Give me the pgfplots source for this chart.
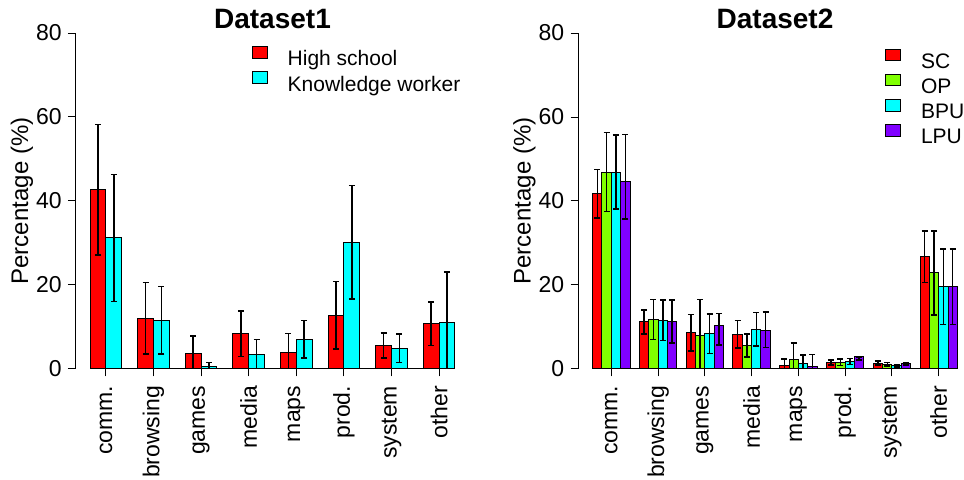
\documentclass[border=0pt]{standalone}
\usepackage{fontspec}
\setmainfont{Liberation Sans}
\usepackage{pgfplots}
\pgfplotsset{compat=1.18}

% R rainbow() colours
\definecolor{rred}{HTML}{FF0000}
\definecolor{rgreen}{HTML}{80FF00}
\definecolor{rcyan}{HTML}{00FFFF}
\definecolor{rpurple}{HTML}{8000FF}

\pgfplotsset{
  rbars/.style={
    scale only axis, width=197pt, height=168pt,
    anchor=south west,
    ymin=0, ymax=80,
    axis x line*=bottom, axis y line*=left,
    axis line style={line width=0.5pt, black},
    tick align=outside, major tick length=3.75pt,
    tick style={black, line width=0.5pt},
    ytick={0,20,40,60,80}, yticklabels={0,20,40,60,80},
    yticklabel style={font=\fontsize{11.5}{13}\selectfont, inner sep=0pt, xshift=-3pt},
    xticklabel style={rotate=90, anchor=east, inner sep=0pt, xshift=-4.5pt,
      font=\fontsize{11.5}{13}\selectfont},
    ylabel={Percentage (\%)},
    ylabel style={at={(axis description cs:-0.1358,0.5)}, anchor=center,
      font=\fontsize{12}{14}\selectfont},
    every axis title shift=0pt,
    title style={at={(axis description cs:0.5,1)}, anchor=base, yshift=2.35pt,
      font=\bfseries\fontsize{14}{16}\selectfont},
    legend style={draw=none, fill=none, inner sep=0pt, anchor=north west,
      font=\fontsize{10.5}{12}\selectfont,
      nodes={inner sep=0pt, text height=8pt, text depth=3pt}, row sep=-0.3pt},
    legend cell align=left,
  },
  rbar/.style={ybar, bar width=1, bar shift=0pt, draw=black, line width=0.5pt, fill=#1,
    error bars/y dir=both, error bars/y explicit,
    error bars/error bar style={line width=0.75pt, black},
    error bars/error mark options={rotate=90, line width=0.75pt, mark size=1.5pt, black},
    legend image code/.code={\draw[##1, line width=0.5pt] (0pt,1.35pt) rectangle (7.5pt,7.15pt);
      \path (17.3pt,0pt);}},
}

\begin{document}
\begin{tikzpicture}
\path[use as bounding box] (0,0) rectangle (482pt,240pt);

\begin{axis}[rbars, at={(37.75pt,55.5pt)},
  xmin=0.08, xmax=24.92,
  x axis line style={shorten <=15.25pt, shorten >=15.25pt},
  xtick={2,5,8,11,14,17,20,23},
  xticklabels={comm.,browsing,games,media,maps,prod.,system,other},
  title={Dataset1},
  legend style={at={(0.4472,0.962)}}]
\addplot[rbar=rred] coordinates {
  (1.5,42.7) +- (0,15.5)
  (4.5,12.1) +- (0,8.5)
  (7.5,3.8) +- (0,4.0)
  (10.5,8.4) +- (0,5.4)
  (13.5,3.9) +- (0,4.5)
  (16.5,12.8) +- (0,8.0)
  (19.5,5.6) +- (0,3.0)
  (22.5,10.8) +- (0,5.2)
};
\addplot[rbar=rcyan] coordinates {
  (2.5,31.2) +- (0,15.1)
  (5.5,11.6) +- (0,8.0)
  (8.5,0.5) +- (0,1.0)
  (11.5,3.4) +- (0,3.6)
  (14.5,7.1) +- (0,4.5)
  (17.5,30.2) +- (0,13.5)
  (20.5,4.9) +- (0,3.4)
  (23.5,11.1) +- (0,12.0)
};
\legend{High school, Knowledge worker}
\end{axis}

\begin{axis}[rbars, at={(289pt,55.5pt)},
  xmin=-0.56, xmax=41.56,
  x axis line style={shorten <=16.65pt, shorten >=16.65pt},
  xtick={3,8,13,18,23,28,33,38},
  xticklabels={comm.,browsing,games,media,maps,prod.,system,other},
  title={Dataset2},
  legend style={at={(0.7792,0.955)}}]
\addplot[rbar=rred] coordinates {
  (1.5,41.7) +- (0,5.8)
  (6.5,11.2) +- (0,2.9)
  (11.5,8.6) +- (0,4.35)
  (16.5,8.25) +- (0,3.3)
  (21.5,0.95) +- (0,1.45)
  (26.5,1.5) +- (0,0.6)
  (31.5,1.4) +- (0,0.5)
  (36.5,26.7) +- (0,6.1)
};
\addplot[rbar=rgreen] coordinates {
  (2.5,46.9) +- (0,9.4)
  (7.5,11.8) +- (0,4.8)
  (12.5,8.0) +- (0,8.6)
  (17.5,5.6) +- (0,2.75)
  (22.5,2.3) +- (0,3.9)
  (27.5,1.6) +- (0,0.8)
  (32.5,1.1) +- (0,0.4)
  (37.5,22.9) +- (0,10.0)
};
\addplot[rbar=rcyan] coordinates {
  (3.5,46.9) +- (0,8.8)
  (8.5,11.6) +- (0,4.85)
  (13.5,8.4) +- (0,4.75)
  (18.5,9.5) +- (0,4.0)
  (23.5,1.27) +- (0,2.1)
  (28.5,1.8) +- (0,0.7)
  (33.5,0.8) +- (0,0.3)
  (38.5,19.6) +- (0,9.0)
};
\addplot[rbar=rpurple] coordinates {
  (4.5,44.7) += (0,11.1) -= (0,9.0)
  (9.5,11.2) += (0,5.2) -= (0,5.0)
  (14.5,10.4) += (0,2.8) -= (0,4.7)
  (19.5,9.2) += (0,4.4) -= (0,4.1)
  (24.5,0.63) += (0,2.8) -= (0,2.1)
  (29.5,2.9) += (0,0.0) -= (0,0.8)
  (34.5,1.4) += (0,0.1) -= (0,0.4)
  (39.5,19.6) +- (0,9.0)
};
\legend{SC, OP, BPU, LPU}
\end{axis}
\end{tikzpicture}
\end{document}
